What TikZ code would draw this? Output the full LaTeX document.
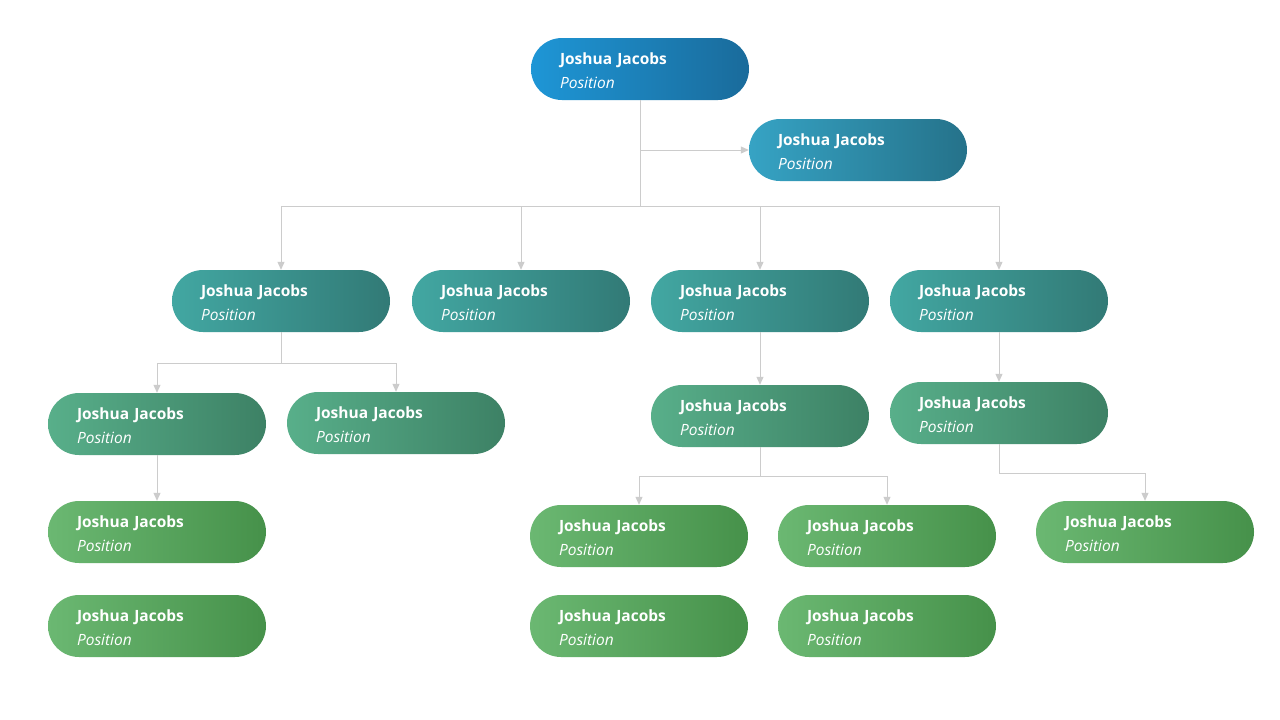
\documentclass[tikz,border=0pt]{standalone}
\usepackage{fontspec}
\setmainfont{Open Sans}
\usepackage{tikz}
\usetikzlibrary{arrows.meta,calc}
\definecolor{bleuA}{HTML}{1E96D6}
\definecolor{bleuB}{HTML}{1A6B9B}
\definecolor{cyanA}{HTML}{36A3C4}
\definecolor{cyanB}{HTML}{25728A}
\definecolor{tealA}{HTML}{42A7A2}
\definecolor{tealB}{HTML}{327A76}
\definecolor{mentA}{HTML}{58AF8A}
\definecolor{mentB}{HTML}{3D8165}
\definecolor{vertA}{HTML}{6BB872}
\definecolor{vertB}{HTML}{46914A}
\definecolor{trait}{HTML}{CCCCCC}
\newcommand\fiche{\rule{0pt}{16pt}\textbf{Joshua Jacobs}\\\textit{Position}}
\tikzset{
  pill/.style={rectangle, rounded corners=31pt, minimum width=218pt, minimum height=62pt,
    text width=160pt, inner xsep=29pt, inner ysep=0pt, align=left, text=white,
    font=\fontsize{15.5}{24}\selectfont},
  niv0/.style={pill, left color=bleuA, right color=bleuB},
  niv1/.style={pill, left color=cyanA, right color=cyanB},
  niv2/.style={pill, left color=tealA, right color=tealB},
  niv3/.style={pill, left color=mentA, right color=mentB},
  niv4/.style={pill, left color=vertA, right color=vertB},
  conn/.style={draw=trait, line width=1pt},
  arr/.style={conn, -{Triangle[length=8pt,width=7pt]}}
}
\begin{document}
\begin{tikzpicture}[x=1pt,y=-1pt]
\useasboundingbox[fill=white] (0,0) rectangle (1280,720);
% les cartes
\node[niv0] (chef) at (640,69) {\fiche};
\node[niv1] (adj) at (858,150) {\fiche};
\foreach \n/\x in {a/281, b/521, c/760, d/999}
    \node[niv2] (n2\n) at (\x,301) {\fiche};
\foreach \n/\x/\y in {a/157/424, b/396/423, c/760/416, d/999/413}
    \node[niv3] (n3\n) at (\x,\y) {\fiche};
\foreach \n/\x/\y in {a/157/532, b/157/626, c/639/536, d/887/536, e/639/626, f/887/626, g/1145/532}
    \node[niv4] (n4\n) at (\x,\y) {\fiche};
% les liens
\coordinate (bus) at (640,206);
\draw[conn] (chef.south) -- (bus);
\draw[arr] (chef.south |- adj.west) -- (adj.west);
\foreach \n in {a,b,c,d} \draw[arr] (bus) -| (n2\n.north);
\draw[conn] (n2a.south) -- ++(0,31) coordinate (jg);
\foreach \n in {a,b} \draw[arr] (jg) -| (n3\n.north);
\draw[arr] (n3a.south) -- (n4a.north);
\draw[arr] (n2c.south) -- (n3c.north);
\draw[conn] (n3c.south) -- ++(0,29) coordinate (jm);
\foreach \n in {c,d} \draw[arr] (jm) -| (n4\n.north);
\draw[arr] (n2d.south) -- (n3d.north);
\draw[conn] (n3d.south) -- ++(0,29) coordinate (jd);
\draw[arr] (jd) -| (n4g.north);
\end{tikzpicture}
\end{document}
